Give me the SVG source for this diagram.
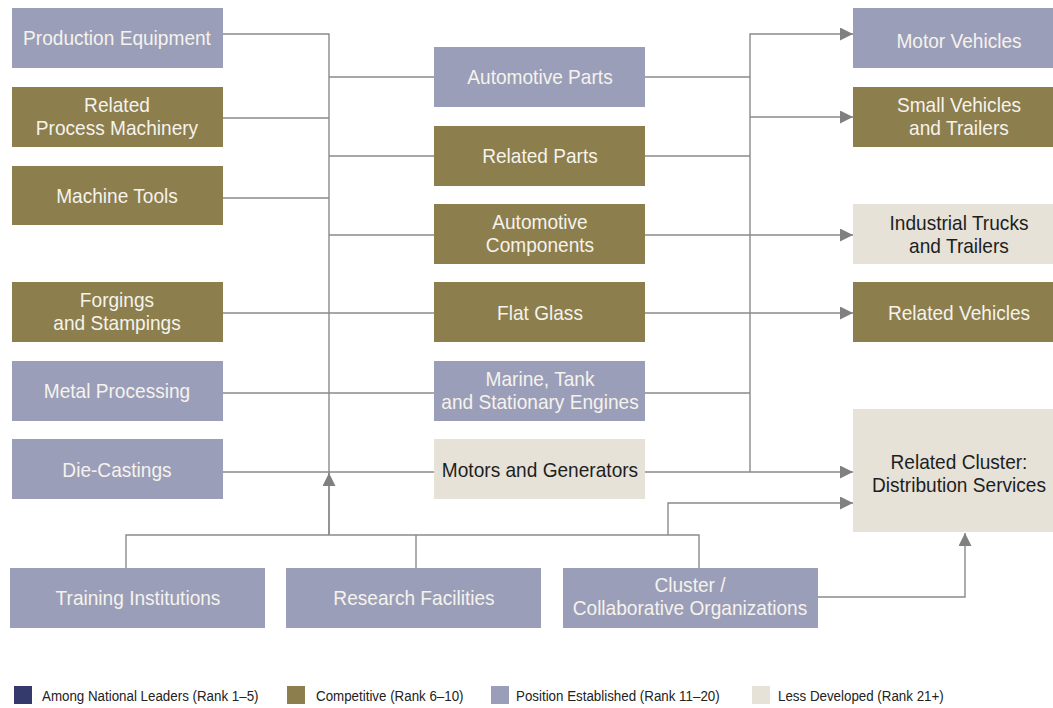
<svg xmlns="http://www.w3.org/2000/svg" width="1053" height="708" viewBox="0 0 1053 708">
  <style>
    .box-est { fill: #9b9eb9; }
    .box-comp { fill: #8c7e4d; }
    .box-less { fill: #e6e2d8; }
    .lbl { font-family: "Liberation Sans", Arial, sans-serif; font-size: 20px; text-anchor: middle; fill: #f5f3ec;
           transform-box: fill-box; transform-origin: center; transform: scaleX(0.955); }
    .lbl-dark { fill: #1e1e1e; }
    .conn { fill: none; stroke: #8a8a8a; stroke-width: 1.4; }
    .leg { font-family: "Liberation Sans", Arial, sans-serif; font-size: 15px; fill: #222;
           transform-box: fill-box; transform-origin: left center; transform: scaleX(0.89); }
  </style>
  <defs>
    <marker id="arrow" viewBox="0 0 13 13" refX="13" refY="6.5" markerWidth="13" markerHeight="13" markerUnits="userSpaceOnUse" orient="auto">
      <path d="M0,0 L13,6.5 L0,13 Z" fill="#808080"/>
    </marker>
  </defs>
  <rect width="1053" height="708" fill="#ffffff"/>

  <g id="connectors">
    <!-- left trunk -->
    <path class="conn" d="M223,34 H329 V535"/>
    <path class="conn" d="M223,118 H329"/>
    <path class="conn" d="M223,198 H329"/>
    <path class="conn" d="M223,313 H434"/>
    <path class="conn" d="M223,393 H434"/>
    <path class="conn" d="M223,472 H434"/>
    <path class="conn" d="M329,77 H434"/>
    <path class="conn" d="M329,156 H434"/>
    <path class="conn" d="M329,235 H434"/>
    <!-- institutions bus feeding upward -->
    <path class="conn" d="M126,568 V535 H699 V568"/>
    <path class="conn" d="M416,535 V568"/>
    <path class="conn" d="M329,535 V473" marker-end="url(#arrow)"/>
    <path class="conn" d="M668,535 V503 H853" marker-end="url(#arrow)"/>
    <path class="conn" d="M818,597 H965 V533" marker-end="url(#arrow)"/>
    <!-- right trunk -->
    <path class="conn" d="M645,77 H750"/>
    <path class="conn" d="M645,156 H750"/>
    <path class="conn" d="M645,393 H750"/>
    <path class="conn" d="M750,472 V34 H853" marker-end="url(#arrow)"/>
    <path class="conn" d="M750,117 H853" marker-end="url(#arrow)"/>
    <path class="conn" d="M645,235 H853" marker-end="url(#arrow)"/>
    <path class="conn" d="M645,313 H853" marker-end="url(#arrow)"/>
    <path class="conn" d="M645,472 H853" marker-end="url(#arrow)"/>
  </g>

  <!-- left column -->
  <g id="production-equipment">
    <rect class="box-est" x="12" y="8" width="211" height="60"/>
    <text class="lbl" x="117" y="45">Production Equipment</text>
  </g>
  <g id="related-process-machinery">
    <rect class="box-comp" x="12" y="87" width="211" height="60"/>
    <text class="lbl" x="117" y="112">Related</text>
    <text class="lbl" x="117" y="135">Process Machinery</text>
  </g>
  <g id="machine-tools">
    <rect class="box-comp" x="12" y="166" width="211" height="59"/>
    <text class="lbl" x="117" y="203">Machine Tools</text>
  </g>
  <g id="forgings-stampings">
    <rect class="box-comp" x="12" y="282" width="211" height="60"/>
    <text class="lbl" x="117" y="307">Forgings</text>
    <text class="lbl" x="117" y="330">and Stampings</text>
  </g>
  <g id="metal-processing">
    <rect class="box-est" x="12" y="361" width="211" height="60"/>
    <text class="lbl" x="117" y="398">Metal Processing</text>
  </g>
  <g id="die-castings">
    <rect class="box-est" x="12" y="439" width="211" height="60"/>
    <text class="lbl" x="117" y="477">Die-Castings</text>
  </g>

  <!-- middle column -->
  <g id="automotive-parts">
    <rect class="box-est" x="434" y="47" width="211" height="60"/>
    <text class="lbl" x="540" y="84">Automotive Parts</text>
  </g>
  <g id="related-parts">
    <rect class="box-comp" x="434" y="126" width="211" height="60"/>
    <text class="lbl" x="540" y="163">Related Parts</text>
  </g>
  <g id="automotive-components">
    <rect class="box-comp" x="434" y="204" width="211" height="60"/>
    <text class="lbl" x="540" y="229">Automotive</text>
    <text class="lbl" x="540" y="252">Components</text>
  </g>
  <g id="flat-glass">
    <rect class="box-comp" x="434" y="282" width="211" height="60"/>
    <text class="lbl" x="540" y="320">Flat Glass</text>
  </g>
  <g id="engines">
    <rect class="box-est" x="434" y="361" width="211" height="60"/>
    <text class="lbl" x="540" y="386">Marine, Tank</text>
    <text class="lbl" x="540" y="409">and Stationary Engines</text>
  </g>
  <g id="motors-generators">
    <rect class="box-less" x="434" y="439" width="211" height="60"/>
    <text class="lbl lbl-dark" x="540" y="477">Motors and Generators</text>
  </g>

  <!-- right column -->
  <g id="motor-vehicles">
    <rect class="box-est" x="853" y="8" width="200" height="60"/>
    <text class="lbl" x="959" y="48">Motor Vehicles</text>
  </g>
  <g id="small-vehicles">
    <rect class="box-comp" x="853" y="87" width="200" height="60"/>
    <text class="lbl" x="959" y="112">Small Vehicles</text>
    <text class="lbl" x="959" y="135">and Trailers</text>
  </g>
  <g id="industrial-trucks">
    <rect class="box-less" x="853" y="204" width="200" height="60"/>
    <text class="lbl lbl-dark" x="959" y="230">Industrial Trucks</text>
    <text class="lbl lbl-dark" x="959" y="253">and Trailers</text>
  </g>
  <g id="related-vehicles">
    <rect class="box-comp" x="853" y="282" width="200" height="60"/>
    <text class="lbl" x="959" y="320">Related Vehicles</text>
  </g>
  <g id="distribution-services">
    <rect class="box-less" x="853" y="409" width="200" height="123"/>
    <text class="lbl lbl-dark" x="959" y="469">Related Cluster:</text>
    <text class="lbl lbl-dark" x="959" y="492">Distribution Services</text>
  </g>

  <!-- bottom row -->
  <g id="training-institutions">
    <rect class="box-est" x="10" y="568" width="255" height="60"/>
    <text class="lbl" x="138" y="605">Training Institutions</text>
  </g>
  <g id="research-facilities">
    <rect class="box-est" x="286" y="568" width="255" height="60"/>
    <text class="lbl" x="414" y="605">Research Facilities</text>
  </g>
  <g id="cluster-organizations">
    <rect class="box-est" x="563" y="568" width="255" height="60"/>
    <text class="lbl" x="690" y="592">Cluster /</text>
    <text class="lbl" x="690" y="615">Collaborative Organizations</text>
  </g>

  <!-- legend -->
  <g id="legend">
    <rect x="14" y="686" width="18" height="18" fill="#343b6c"/>
    <text class="leg" x="42" y="701">Among National Leaders (Rank 1–5)</text>
    <rect x="287" y="686" width="18" height="18" fill="#8c7e4d"/>
    <text class="leg" x="316" y="701">Competitive (Rank 6–10)</text>
    <rect x="491" y="686" width="18" height="18" fill="#9b9eb9"/>
    <text class="leg" x="516" y="701">Position Established (Rank 11–20)</text>
    <rect x="752" y="686" width="18" height="18" fill="#e6e2d8"/>
    <text class="leg" x="778" y="701">Less Developed (Rank 21+)</text>
  </g>
</svg>
